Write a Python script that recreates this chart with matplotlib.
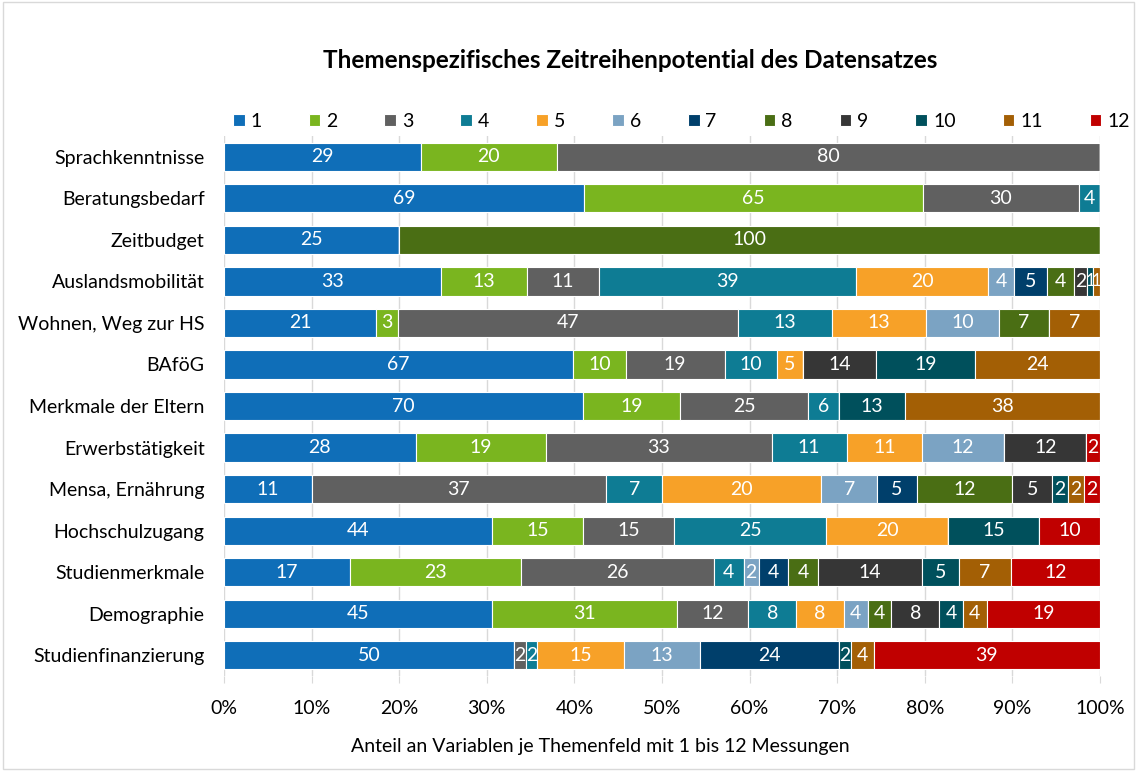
import numpy as np
import matplotlib.pyplot as plt

plt.rcParams['font.family'] = ['Lato', 'DejaVu Sans']

categories = ["Sprachkenntnisse", "Beratungsbedarf", "Zeitbudget", "Auslandsmobilität",
              "Wohnen, Weg zur HS", "BAföG", "Merkmale der Eltern", "Erwerbstätigkeit",
              "Mensa, Ernährung", "Hochschulzugang", "Studienmerkmale", "Demographie",
              "Studienfinanzierung"]
series = [str(i) for i in range(1, 13)]
# rows: categories, columns: number of measurements 1..12
counts = [
    [29, 20, 80, 0, 0, 0, 0, 0, 0, 0, 0, 0],
    [69, 65, 30, 4, 0, 0, 0, 0, 0, 0, 0, 0],
    [25, 0, 0, 0, 0, 0, 0, 100, 0, 0, 0, 0],
    [33, 13, 11, 39, 20, 4, 5, 4, 2, 1, 1, 0],
    [21, 3, 47, 13, 13, 10, 0, 7, 0, 0, 7, 0],
    [67, 10, 19, 10, 5, 0, 0, 0, 14, 19, 24, 0],
    [70, 19, 25, 6, 0, 0, 0, 0, 0, 13, 38, 0],
    [28, 19, 33, 11, 11, 12, 0, 0, 12, 0, 0, 2],
    [11, 0, 37, 7, 20, 7, 5, 12, 5, 2, 2, 2],
    [44, 15, 15, 25, 20, 0, 0, 0, 0, 15, 0, 10],
    [17, 23, 26, 4, 0, 2, 4, 4, 14, 5, 7, 12],
    [45, 31, 12, 8, 8, 4, 0, 4, 8, 4, 4, 19],
    [50, 0, 2, 2, 15, 13, 24, 0, 0, 2, 4, 39],
]
colors = ["#0F6EB8", "#7AB51F", "#606060", "#0E7C94", "#F7A128", "#7BA3C3",
          "#003F6B", "#4A6E14", "#363636", "#00505C", "#A35F05", "#C00000"]

data = np.array(counts, dtype=float)
shares = data / data.sum(axis=1, keepdims=True)

fs = 14
fig = plt.figure(figsize=(11.37, 7.71), dpi=100)
ax = fig.add_axes([0.197, 0.1232, 0.7705, 0.7004])

y = np.arange(len(categories))
left = np.zeros(len(categories))
for j, name in enumerate(series):
    w = shares[:, j]
    bars = ax.barh(y, w, left=left, height=0.68, color=colors[j],
                   edgecolor="white", linewidth=0.8, label=name, zorder=3)
    for i, b in enumerate(bars):
        if data[i, j] > 0:
            # very thin segments get a slightly smaller label
            size = fs if w[i] > 0.012 else fs - 2
            ax.text(left[i] + w[i] / 2, y[i], str(int(data[i, j])), ha="center",
                    va="center", color="white", fontsize=size, zorder=4)
    left += w

ax.set_ylim(len(categories) - 0.5, -0.5)
ax.set_xlim(0, 1)
ax.set_yticks(y)
ax.set_yticklabels(categories, fontsize=fs)
ax.set_xticks(np.linspace(0, 1, 11))
ax.set_xticklabels([f"{int(v)}%" for v in np.linspace(0, 100, 11)], fontsize=fs)
ax.tick_params(axis="y", length=0, pad=14)
ax.tick_params(axis="x", length=5, color="#D9D9D9", pad=12)
ax.grid(axis="x", color="#D9D9D9", linewidth=1, zorder=0)
for s in ax.spines.values():
    s.set_visible(False)
ax.set_xlabel("Anteil an Variablen je Themenfeld mit 1 bis 12 Messungen", fontsize=fs, labelpad=12)
ax.xaxis.set_label_coords(0.43, -0.115)

fig.suptitle("Themenspezifisches Zeitreihenpotential des Datensatzes", x=0.554, y=0.937,
             fontsize=17.5, fontweight="bold")
ax.legend(loc="lower center", bbox_to_anchor=(0.522, 0.99), ncol=12, frameon=False,
          fontsize=fs, handlelength=0.6, handleheight=0.6, handletextpad=0.3,
          columnspacing=2.42, borderaxespad=0.2)

fig.patches.append(plt.Rectangle((0.003, 0.003), 0.994, 0.994, transform=fig.transFigure,
                                 fill=False, edgecolor="#D9D9D9", linewidth=1))
fig.savefig("out.png", dpi=100)
